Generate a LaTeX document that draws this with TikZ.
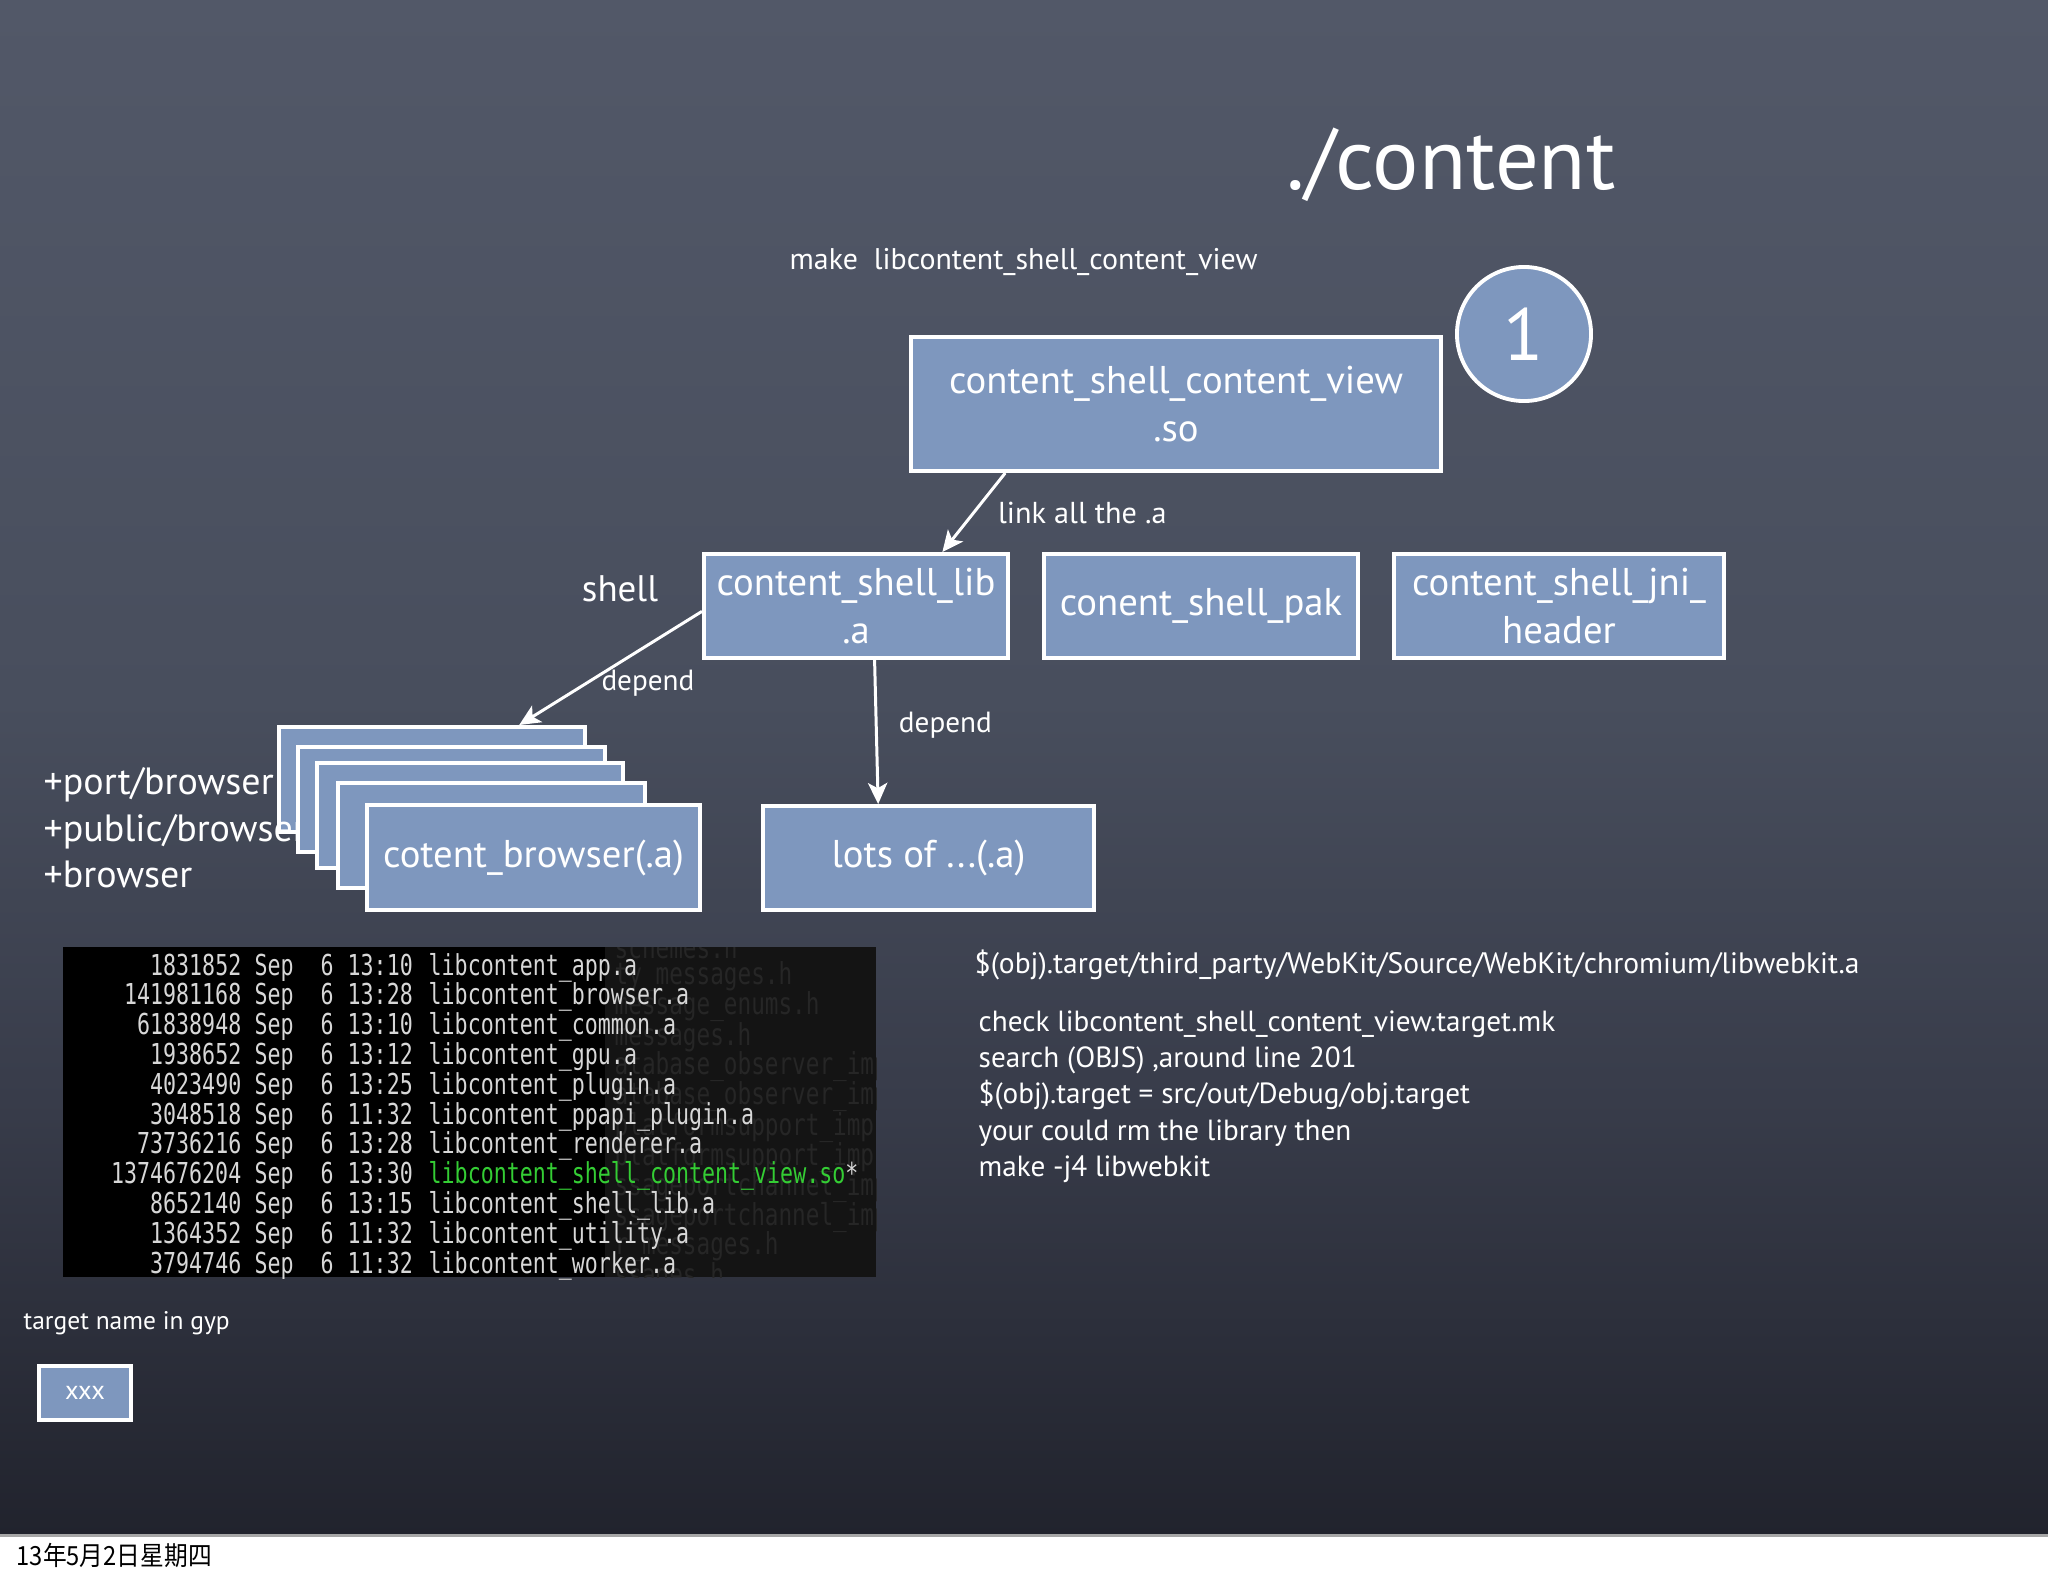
\documentclass[tikz,border=0pt]{standalone}
\usepackage{fontspec}
\usepackage{xcolor}
\setmainfont{PT Sans}
\newfontfamily\termfont[FakeStretch=0.75]{DejaVu Sans Mono}
\newfontfamily\cjkfont[FakeStretch=0.9]{Noto Sans CJK SC}
\usetikzlibrary{arrows.meta,positioning}
\definecolor{boardtop}{RGB}{82,88,104}
\definecolor{boardmid}{RGB}{72,78,93}
\definecolor{boardlow}{RGB}{56,60,74}
\definecolor{boardbot}{RGB}{33,35,45}
\definecolor{libblue}{RGB}{126,151,190}
\definecolor{termgrey}{RGB}{215,215,215}
\definecolor{termgreen}{RGB}{52,205,52}
\definecolor{termshade}{RGB}{20,20,20}
\definecolor{termghost}{RGB}{38,38,38}
\begin{document}
\begin{tikzpicture}[x=0.01cm,y=-0.01cm,
libbox/.style={draw=white,line width=1.1pt,fill=libblue,text=white,align=center,inner sep=0pt,font=\fontsize{11}{13.4}\selectfont},
chalk/.style={text=white,inner sep=0pt},
dep/.style={draw=white,line width=0.85pt,-{Stealth[length=6pt,width=5.5pt,inset=1.5pt]}},
termtxt/.style={text=termgrey,inner sep=0pt,font=\termfont\fontsize{8.2}{9}\selectfont}]
\useasboundingbox(0,0)rectangle(2048,1576);
\shade[top color=boardtop,bottom color=boardmid](0,0)rectangle(2048,700);
\shade[top color=boardmid,bottom color=boardlow](0,700)rectangle(2048,1100);
\shade[top color=boardlow,bottom color=boardbot](0,1100)rectangle(2048,1536);
\fill[white](0,1536)rectangle(2048,1576);
\draw[gray!70,line width=0.6pt](0,1535.5)--(2048,1535.5);
\node[chalk,anchor=base west,font=\fontsize{24.6}{25}\selectfont](title)at(1286,190){./content};
\node[chalk,anchor=base west,font=\fontsize{8.5}{10}\selectfont](makecmd)at(789,269){make\ \ libcontent\_shell\_content\_view};
\node[libbox,minimum width=5.29cm,minimum height=1.34cm](so)at(1176,404){content\_shell\_content\_view\\.so};
\node[circle,draw=white,line width=1.1pt,fill=libblue,text=white,minimum size=1.34cm,inner sep=0pt,font=\fontsize{21}{21}\selectfont](one)at(1524,334){1};
\node[libbox,minimum width=3.04cm,minimum height=1.04cm](lib)at(856,606){content\_shell\_lib\\.a};
\node[libbox,minimum width=3.13cm,minimum height=1.04cm](pak)at(1201,606){conent\_shell\_pak};
\node[libbox,minimum width=3.29cm,minimum height=1.04cm](jni)at(1559,606){content\_shell\_jni\_\\header};
\node[chalk,font=\fontsize{10.5}{12}\selectfont](shell)at(620,589){shell};
\node[libbox,minimum width=3.06cm,minimum height=1.05cm](stacka)at(432,779.5){};
\node[chalk,align=left,anchor=west,font=\fontsize{10.8}{13.2}\selectfont](paths)at(43,828){+port/browser\\+public/browser\\+browser};
\foreach \n/\x/\y in {b/451.5/799.5,c/470/815.5,d/491.5/835.5}
\node[libbox,minimum width=3.06cm,minimum height=1.05cm](stack\n)at(\x,\y){};
\node[libbox,minimum width=3.33cm,minimum height=1.05cm](browser)at(533.5,857.5){cotent\_browser(.a)};
\node[libbox,minimum width=3.31cm,minimum height=1.04cm](lots)at(928.5,858){lots of ...(.a)};
\draw[dep](so.202)--node[chalk,midway,right=6.5pt,font=\fontsize{8.6}{10}\selectfont](linklbl){link all the .a}(lib.32);
\draw[dep](lib.182)--node[chalk,midway,anchor=north west,xshift=-3pt,font=\fontsize{8.3}{10}\selectfont](deplbla){depend}(stacka.32);
\draw[dep](lib.289)--node[chalk,midway,right=6pt,yshift=2pt,font=\fontsize{8.3}{10}\selectfont](deplblb){depend}(lots.133);
\fill[black](63,947)rectangle(876,1277);
\fill[termshade](605,947)rectangle(876,1277);
\begin{scope}
\clip(605,947)rectangle(876,1277);
\foreach \g[count=\k from 0] in {schemes.h,ty\_messages.h,message\_enums.h,messages.h,atabase\_observer\_imp,atabase\_observer\_imp,platformsupport\_imp,platformsupport\_imp,ssageportchannel\_imp,ssageportchannel\_imp,r\_messages.h,ssages.h}
\node[anchor=west,text=termghost,inner sep=0pt,font=\termfont\fontsize{8.6}{9}\selectfont](ghost\k)at(614,947+30*\k){\g};
\end{scope}
\foreach \sz/\tm/\lib[count=\k from 0] in {1831852/13:10/libcontent\_app.a,141981168/13:28/libcontent\_browser.a,61838948/13:10/libcontent\_common.a,1938652/13:12/libcontent\_gpu.a,4023490/13:25/libcontent\_plugin.a,3048518/11:32/libcontent\_ppapi\_plugin.a,73736216/13:28/libcontent\_renderer.a,1374676204/13:30/{\color{termgreen}libcontent\_shell\_content\_view.so}*,8652140/13:15/libcontent\_shell\_lib.a,1364352/11:32/libcontent\_utility.a,3794746/11:32/libcontent\_worker.a}{
\node[termtxt,anchor=base east](size\k)at(242,975+29.8*\k){\sz};
\node[termtxt,anchor=base west](month\k)at(254,975+29.8*\k){Sep};
\node[termtxt,anchor=base west](day\k)at(320,975+29.8*\k){6};
\node[termtxt,anchor=base west](time\k)at(347,975+29.8*\k){\tm};
\node[termtxt,anchor=base west](file\k)at(428,975+29.8*\k){\lib};}
\node[chalk,anchor=base west,font=\fontsize{8.4}{10}\selectfont](objpath)at(974,973){\$(obj).target/third\_party/WebKit/Source/WebKit/chromium/libwebkit.a};
\node[chalk,align=left,anchor=north west,font=\fontsize{8.3}{10.3}\selectfont](howto)at(978,1010){check libcontent\_shell\_content\_view.target.mk\\search (OBJS) ,around line 201\\\$(obj).target = src/out/Debug/obj.target\\your could rm the library then\\make -j4 libwebkit};
\node[chalk,anchor=west,font=\fontsize{7.25}{9}\selectfont](gyplbl)at(23,1323){target name in gyp};
\node[libbox,minimum width=0.92cm,minimum height=0.54cm,font=\fontsize{7.5}{8}\selectfont](gypbox)at(85,1393){xxx};
\node[anchor=west,inner sep=0pt,text=black,font=\cjkfont\fontsize{7.5}{8}\selectfont](date)at(16,1555){13年5月2日星期四};
\end{tikzpicture}
\end{document}
